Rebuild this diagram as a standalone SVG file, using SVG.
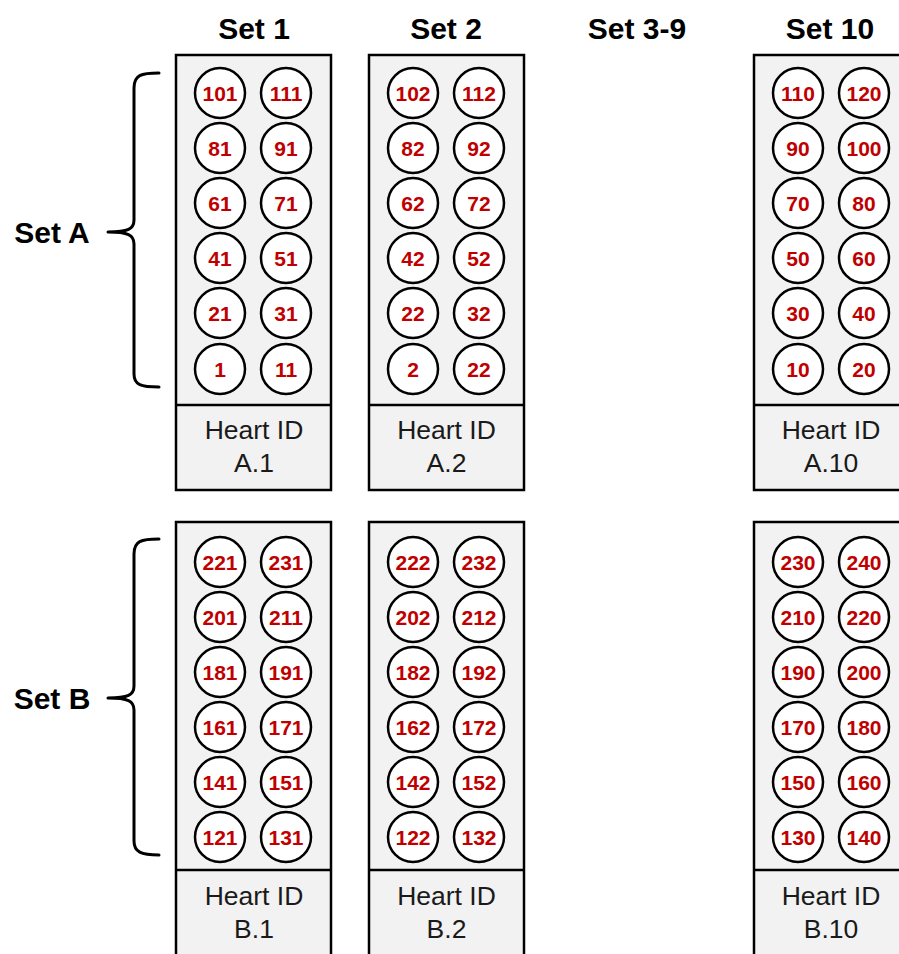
<svg xmlns="http://www.w3.org/2000/svg" width="899" height="954" viewBox="0 0 899 954">
<style>
.panel{fill:#f2f2f2;stroke:#000;stroke-width:2.5}
.div{stroke:#000;stroke-width:2.5}
.well{fill:#fff;stroke:#000;stroke-width:2.5}
.num{font-family:"Liberation Sans",Arial,sans-serif;font-weight:bold;font-size:21px;fill:#c00000;text-anchor:middle}
.hid{font-family:"Liberation Sans",Arial,sans-serif;font-size:26.5px;fill:#1a1a1a;text-anchor:middle}
.hdr{font-family:"Liberation Sans",Arial,sans-serif;font-weight:bold;font-size:30px;fill:#000;text-anchor:middle}
.brace{fill:none;stroke:#000;stroke-width:3;stroke-linecap:round;stroke-linejoin:round}
</style>
<rect width="899" height="954" fill="#fff"/>
<g id="headers">
<text class="hdr" x="254" y="39">Set 1</text>
<text class="hdr" x="446" y="39">Set 2</text>
<text class="hdr" x="637" y="39">Set 3-9</text>
<text class="hdr" x="830" y="39">Set 10</text>
</g>
<g id="braces">
<path class="brace" d="M159,73 C141,73 134,75 134,88 L134,220 C134,229 128,232 108,232 C128,232 134,235 134,244 L134,374 C134,385 141,387 159,387"/>
<path class="brace" d="M159,539 C141,539 134,541 134,554 L134,686 C134,695 128,698 108,698 C128,698 134,701 134,710 L134,841 C134,852 141,855 159,855"/>
<text class="hdr" x="52" y="243">Set A</text>
<text class="hdr" x="52" y="709">Set B</text>
</g>
<g id="plate-A1">
<rect class="panel" x="176" y="55" width="155" height="435"/>
<line class="div" x1="176" y1="405" x2="331" y2="405"/>
<circle class="well" cx="220" cy="93" r="25"/><text class="num" x="220" y="100.5">101</text>
<circle class="well" cx="286" cy="93" r="25"/><text class="num" x="286" y="100.5">111</text>
<circle class="well" cx="220" cy="148" r="25"/><text class="num" x="220" y="155.5">81</text>
<circle class="well" cx="286" cy="148" r="25"/><text class="num" x="286" y="155.5">91</text>
<circle class="well" cx="220" cy="203" r="25"/><text class="num" x="220" y="210.5">61</text>
<circle class="well" cx="286" cy="203" r="25"/><text class="num" x="286" y="210.5">71</text>
<circle class="well" cx="220" cy="258" r="25"/><text class="num" x="220" y="265.5">41</text>
<circle class="well" cx="286" cy="258" r="25"/><text class="num" x="286" y="265.5">51</text>
<circle class="well" cx="220" cy="313" r="25"/><text class="num" x="220" y="320.5">21</text>
<circle class="well" cx="286" cy="313" r="25"/><text class="num" x="286" y="320.5">31</text>
<circle class="well" cx="220" cy="369" r="25"/><text class="num" x="220" y="376.5">1</text>
<circle class="well" cx="286" cy="369" r="25"/><text class="num" x="286" y="376.5">11</text>
<text class="hid" x="254" y="439">Heart ID</text>
<text class="hid" x="254" y="472">A.1</text>
</g>
<g id="plate-A2">
<rect class="panel" x="369" y="55" width="155" height="435"/>
<line class="div" x1="369" y1="405" x2="524" y2="405"/>
<circle class="well" cx="413" cy="93" r="25"/><text class="num" x="413" y="100.5">102</text>
<circle class="well" cx="479" cy="93" r="25"/><text class="num" x="479" y="100.5">112</text>
<circle class="well" cx="413" cy="148" r="25"/><text class="num" x="413" y="155.5">82</text>
<circle class="well" cx="479" cy="148" r="25"/><text class="num" x="479" y="155.5">92</text>
<circle class="well" cx="413" cy="203" r="25"/><text class="num" x="413" y="210.5">62</text>
<circle class="well" cx="479" cy="203" r="25"/><text class="num" x="479" y="210.5">72</text>
<circle class="well" cx="413" cy="258" r="25"/><text class="num" x="413" y="265.5">42</text>
<circle class="well" cx="479" cy="258" r="25"/><text class="num" x="479" y="265.5">52</text>
<circle class="well" cx="413" cy="313" r="25"/><text class="num" x="413" y="320.5">22</text>
<circle class="well" cx="479" cy="313" r="25"/><text class="num" x="479" y="320.5">32</text>
<circle class="well" cx="413" cy="369" r="25"/><text class="num" x="413" y="376.5">2</text>
<circle class="well" cx="479" cy="369" r="25"/><text class="num" x="479" y="376.5">22</text>
<text class="hid" x="446.5" y="439">Heart ID</text>
<text class="hid" x="446.5" y="472">A.2</text>
</g>
<g id="plate-A10">
<rect class="panel" x="754" y="55" width="155" height="435"/>
<line class="div" x1="754" y1="405" x2="909" y2="405"/>
<circle class="well" cx="798" cy="93" r="25"/><text class="num" x="798" y="100.5">110</text>
<circle class="well" cx="864" cy="93" r="25"/><text class="num" x="864" y="100.5">120</text>
<circle class="well" cx="798" cy="148" r="25"/><text class="num" x="798" y="155.5">90</text>
<circle class="well" cx="864" cy="148" r="25"/><text class="num" x="864" y="155.5">100</text>
<circle class="well" cx="798" cy="203" r="25"/><text class="num" x="798" y="210.5">70</text>
<circle class="well" cx="864" cy="203" r="25"/><text class="num" x="864" y="210.5">80</text>
<circle class="well" cx="798" cy="258" r="25"/><text class="num" x="798" y="265.5">50</text>
<circle class="well" cx="864" cy="258" r="25"/><text class="num" x="864" y="265.5">60</text>
<circle class="well" cx="798" cy="313" r="25"/><text class="num" x="798" y="320.5">30</text>
<circle class="well" cx="864" cy="313" r="25"/><text class="num" x="864" y="320.5">40</text>
<circle class="well" cx="798" cy="369" r="25"/><text class="num" x="798" y="376.5">10</text>
<circle class="well" cx="864" cy="369" r="25"/><text class="num" x="864" y="376.5">20</text>
<text class="hid" x="831" y="439">Heart ID</text>
<text class="hid" x="831" y="472">A.10</text>
</g>
<g id="plate-B1">
<rect class="panel" x="176" y="522" width="155" height="445"/>
<line class="div" x1="176" y1="870" x2="331" y2="870"/>
<circle class="well" cx="220" cy="562" r="25"/><text class="num" x="220" y="569.5">221</text>
<circle class="well" cx="286" cy="562" r="25"/><text class="num" x="286" y="569.5">231</text>
<circle class="well" cx="220" cy="617" r="25"/><text class="num" x="220" y="624.5">201</text>
<circle class="well" cx="286" cy="617" r="25"/><text class="num" x="286" y="624.5">211</text>
<circle class="well" cx="220" cy="672" r="25"/><text class="num" x="220" y="679.5">181</text>
<circle class="well" cx="286" cy="672" r="25"/><text class="num" x="286" y="679.5">191</text>
<circle class="well" cx="220" cy="727" r="25"/><text class="num" x="220" y="734.5">161</text>
<circle class="well" cx="286" cy="727" r="25"/><text class="num" x="286" y="734.5">171</text>
<circle class="well" cx="220" cy="782" r="25"/><text class="num" x="220" y="789.5">141</text>
<circle class="well" cx="286" cy="782" r="25"/><text class="num" x="286" y="789.5">151</text>
<circle class="well" cx="220" cy="837" r="25"/><text class="num" x="220" y="844.5">121</text>
<circle class="well" cx="286" cy="837" r="25"/><text class="num" x="286" y="844.5">131</text>
<text class="hid" x="254" y="905">Heart ID</text>
<text class="hid" x="254" y="938">B.1</text>
</g>
<g id="plate-B2">
<rect class="panel" x="369" y="522" width="155" height="445"/>
<line class="div" x1="369" y1="870" x2="524" y2="870"/>
<circle class="well" cx="413" cy="562" r="25"/><text class="num" x="413" y="569.5">222</text>
<circle class="well" cx="479" cy="562" r="25"/><text class="num" x="479" y="569.5">232</text>
<circle class="well" cx="413" cy="617" r="25"/><text class="num" x="413" y="624.5">202</text>
<circle class="well" cx="479" cy="617" r="25"/><text class="num" x="479" y="624.5">212</text>
<circle class="well" cx="413" cy="672" r="25"/><text class="num" x="413" y="679.5">182</text>
<circle class="well" cx="479" cy="672" r="25"/><text class="num" x="479" y="679.5">192</text>
<circle class="well" cx="413" cy="727" r="25"/><text class="num" x="413" y="734.5">162</text>
<circle class="well" cx="479" cy="727" r="25"/><text class="num" x="479" y="734.5">172</text>
<circle class="well" cx="413" cy="782" r="25"/><text class="num" x="413" y="789.5">142</text>
<circle class="well" cx="479" cy="782" r="25"/><text class="num" x="479" y="789.5">152</text>
<circle class="well" cx="413" cy="837" r="25"/><text class="num" x="413" y="844.5">122</text>
<circle class="well" cx="479" cy="837" r="25"/><text class="num" x="479" y="844.5">132</text>
<text class="hid" x="446.5" y="905">Heart ID</text>
<text class="hid" x="446.5" y="938">B.2</text>
</g>
<g id="plate-B10">
<rect class="panel" x="754" y="522" width="155" height="445"/>
<line class="div" x1="754" y1="870" x2="909" y2="870"/>
<circle class="well" cx="798" cy="562" r="25"/><text class="num" x="798" y="569.5">230</text>
<circle class="well" cx="864" cy="562" r="25"/><text class="num" x="864" y="569.5">240</text>
<circle class="well" cx="798" cy="617" r="25"/><text class="num" x="798" y="624.5">210</text>
<circle class="well" cx="864" cy="617" r="25"/><text class="num" x="864" y="624.5">220</text>
<circle class="well" cx="798" cy="672" r="25"/><text class="num" x="798" y="679.5">190</text>
<circle class="well" cx="864" cy="672" r="25"/><text class="num" x="864" y="679.5">200</text>
<circle class="well" cx="798" cy="727" r="25"/><text class="num" x="798" y="734.5">170</text>
<circle class="well" cx="864" cy="727" r="25"/><text class="num" x="864" y="734.5">180</text>
<circle class="well" cx="798" cy="782" r="25"/><text class="num" x="798" y="789.5">150</text>
<circle class="well" cx="864" cy="782" r="25"/><text class="num" x="864" y="789.5">160</text>
<circle class="well" cx="798" cy="837" r="25"/><text class="num" x="798" y="844.5">130</text>
<circle class="well" cx="864" cy="837" r="25"/><text class="num" x="864" y="844.5">140</text>
<text class="hid" x="831" y="905">Heart ID</text>
<text class="hid" x="831" y="938">B.10</text>
</g>
</svg>
